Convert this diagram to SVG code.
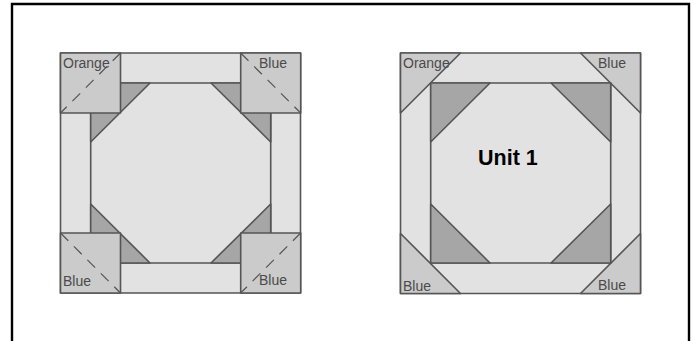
<svg xmlns="http://www.w3.org/2000/svg" width="695" height="341" viewBox="0 0 695 341">
<style>
.f{stroke:#555;stroke-width:1.6;stroke-linejoin:round}
.bg{fill:#e2e2e2}
.tri{fill:#a6a6a6}
.cor{fill:#cbcbcb}
.dash{fill:none;stroke:#555;stroke-width:1.2;stroke-dasharray:11 8}
text{font-family:"Liberation Sans",Arial,sans-serif;font-size:14px;fill:#4a4a4a}
</style>
<rect width="695" height="341" fill="#fff"/>
<path id="frame" d="M12 341V4H689V341" fill="none" stroke="#000" stroke-width="2.4"/>
<g id="left-block">
<rect class="f bg" x="60.500" y="53" width="240" height="240"/>
<rect class="f bg" x="90.700" y="83" width="180" height="180"/>
<path class="f tri" d="M90.700 83H150L90.700 142Z"/>
<path class="f tri" d="M270.700 83H211L270.700 142Z"/>
<path class="f tri" d="M90.700 263H150L90.700 204Z"/>
<path class="f tri" d="M270.700 263H211L270.700 204Z"/>
</g>
<g id="left-corner-tl"><rect class="f cor" x="60.500" y="53" width="60" height="60"/><path class="dash" d="M120.500 53L60.500 113"/><text x="63" y="68">Orange</text></g>
<g id="left-corner-tr"><rect class="f cor" x="240.700" y="53" width="60" height="60"/><path class="dash" d="M240.700 53L300.700 113"/><text x="259" y="68">Blue</text></g>
<g id="left-corner-bl"><rect class="f cor" x="60.500" y="233" width="60" height="60"/><path class="dash" d="M60.500 233L120.500 293"/><text x="63" y="286">Blue</text></g>
<g id="left-corner-br"><rect class="f cor" x="240.700" y="233" width="60" height="60"/><path class="dash" d="M300.700 233L240.700 293"/><text x="259" y="285">Blue</text></g>
<g id="right-block">
<rect class="f bg" x="400.500" y="53" width="240" height="240.500"/>
<path class="f cor" d="M400.500 53H460.500L400.500 113Z"/>
<path class="f cor" d="M640.500 53H580.500L640.500 113Z"/>
<path class="f cor" d="M400.500 293.500H460.500L400.500 233.500Z"/>
<path class="f cor" d="M640.500 293.500H580.500L640.500 233.500Z"/>
<rect class="f bg" x="430.700" y="83" width="180" height="180"/>
<path class="f tri" d="M430.700 83H490L430.700 142Z"/>
<path class="f tri" d="M610.700 83H551L610.700 142Z"/>
<path class="f tri" d="M430.700 263H490L430.700 204Z"/>
<path class="f tri" d="M610.700 263H551L610.700 204Z"/>
<text x="403" y="68">Orange</text>
<text x="598" y="68">Blue</text>
<text x="403" y="291">Blue</text>
<text x="598" y="290">Blue</text>
<text x="478" y="165" style="font-size:21.500px;font-weight:bold;fill:#000">Unit 1</text>
</g>
</svg>
